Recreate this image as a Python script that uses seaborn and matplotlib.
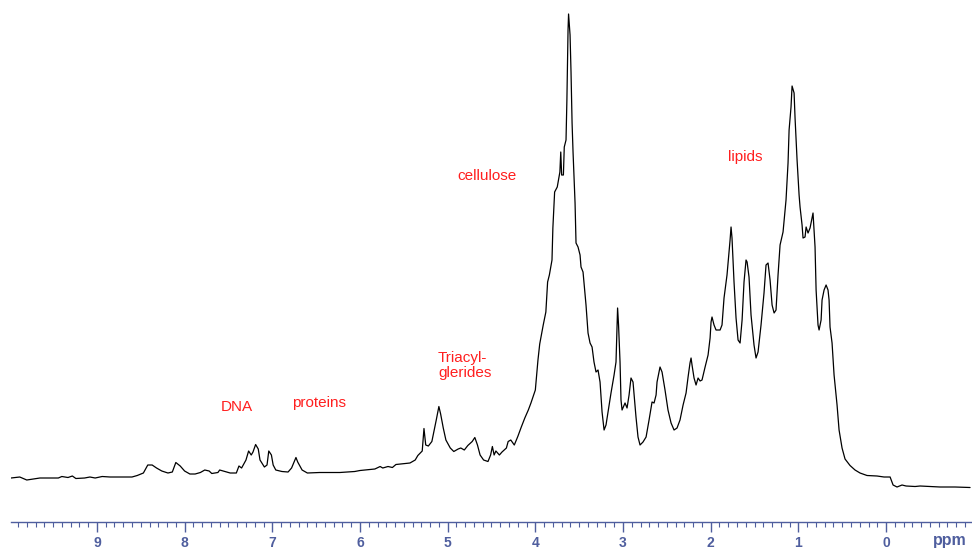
import numpy as np
import pandas as pd
import matplotlib
matplotlib.use("Agg")
import matplotlib.pyplot as plt
import seaborn as sns
from matplotlib.ticker import MultipleLocator

# 1H NMR spectrum: chemical shift (ppm) and intensity (arbitrary units)
shift_ppm = [
    9.98, 9.88, 9.80, 9.65, 9.44, 9.40, 9.33, 9.28, 9.24, 9.14, 9.08, 9.02,
    8.94, 8.85, 8.74, 8.60, 8.54, 8.47, 8.42, 8.37, 8.32, 8.26, 8.19, 8.14,
    8.10, 8.05, 8.00, 7.94, 7.88, 7.82, 7.77, 7.72, 7.69, 7.62, 7.60, 7.54,
    7.48, 7.41, 7.38, 7.35, 7.30, 7.27, 7.24, 7.22, 7.19, 7.16, 7.14, 7.09,
    7.06, 7.04, 7.01, 6.99, 6.96, 6.89, 6.82, 6.78, 6.73, 6.71, 6.66, 6.60,
    6.46, 6.23, 6.06, 6.00, 5.83, 5.77, 5.74, 5.68, 5.63, 5.59, 5.49, 5.43,
    5.37, 5.34, 5.29, 5.27, 5.25, 5.22, 5.18, 5.13, 5.10, 5.08, 5.05, 5.02,
    4.97, 4.93, 4.88, 4.85, 4.81, 4.77, 4.72, 4.69, 4.66, 4.63, 4.59, 4.54,
    4.51, 4.49, 4.47, 4.45, 4.41, 4.38, 4.33, 4.31, 4.28, 4.24, 4.20, 4.16,
    4.12, 4.08, 4.05, 4.00, 3.97, 3.95, 3.91, 3.88, 3.86, 3.84, 3.81, 3.80,
    3.78, 3.75, 3.74, 3.72, 3.71, 3.70, 3.68, 3.67, 3.65, 3.64, 3.627, 3.621,
    3.616, 3.604, 3.593, 3.581, 3.570, 3.547, 3.536, 3.513, 3.490, 3.479, 3.456,
    3.445, 3.422, 3.399, 3.376, 3.353, 3.331, 3.308, 3.285, 3.262, 3.239, 3.216,
    3.194, 3.171, 3.137, 3.102, 3.080, 3.062, 3.051, 3.034, 3.023, 3.011, 2.977,
    2.954, 2.931, 2.909, 2.886, 2.852, 2.829, 2.806, 2.772, 2.737, 2.703, 2.669,
    2.646, 2.623, 2.612, 2.578, 2.555, 2.521, 2.487, 2.452, 2.418, 2.384, 2.350,
    2.315, 2.281, 2.258, 2.236, 2.224, 2.213, 2.190, 2.167, 2.144, 2.121, 2.099,
    2.064, 2.030, 2.007, 1.996, 1.985, 1.962, 1.939, 1.893, 1.871, 1.848, 1.814,
    1.779, 1.768, 1.757, 1.734, 1.711, 1.688, 1.665, 1.642, 1.620, 1.597, 1.585,
    1.563, 1.540, 1.506, 1.483, 1.460, 1.426, 1.392, 1.369, 1.346, 1.323, 1.300,
    1.277, 1.255, 1.232, 1.209, 1.175, 1.141, 1.118, 1.106, 1.084, 1.072, 1.049,
    1.038, 1.015, 0.992, 0.981, 0.958, 0.947, 0.924, 0.912, 0.890, 0.867, 0.833,
    0.821, 0.810, 0.798, 0.776, 0.764, 0.741, 0.730, 0.707, 0.684, 0.662, 0.650,
    0.639, 0.616, 0.593, 0.559, 0.536, 0.502, 0.468, 0.411, 0.354, 0.297, 0.217,
    0.103, 0.023, -0.046, -0.080, -0.125, -0.182, -0.228, -0.331, -0.388, -0.502,
    -0.616, -0.787, -0.958,
]
intensity = [
    12, 13, 10, 12, 12, 13.5, 12.5, 14, 11.5, 12, 13, 12,
    13.5, 13, 13, 13, 14.5, 17, 25, 25, 22, 19, 17, 18,
    27.5, 24, 19, 16, 16, 17.5, 20, 19, 16.5, 17.5, 20, 18.5,
    17, 17, 24, 22, 30, 39, 35, 38, 45.5, 41, 30, 23,
    25, 39, 35, 25, 20, 18.5, 18, 22, 32.5, 28, 20, 17,
    17.5, 17.5, 18.5, 19.5, 21, 23.5, 22, 23.5, 22.5, 25.5, 26.5, 27,
    30, 34.5, 39, 61.5, 45, 44, 48.5, 70, 83.5, 76, 62, 50,
    42, 38.5, 41, 42, 40, 44.5, 48.5, 52.5, 45, 35, 30, 28.5,
    35, 43.5, 35, 39, 35, 38, 42, 48.5, 50, 45, 53.5, 63,
    72, 80, 87, 100, 130, 146, 165, 178, 208, 215, 230, 262,
    298, 303, 308, 318, 338, 315, 315, 343, 350, 390, 460, 476,
    470, 455, 418, 367, 338, 287, 247, 243, 235, 223, 218,
    207, 185, 157, 147, 143, 128, 118, 120, 108, 78, 60,
    65, 78, 97, 115, 128, 182, 165, 128, 90, 80, 87,
    82, 95, 112, 108, 73, 53, 45, 48, 53, 70, 88,
    87, 95, 108, 123, 118, 100, 80, 67, 60, 62, 70,
    85, 97, 113, 127, 132, 125, 112, 105, 112, 109, 110,
    123, 135, 152, 168, 173, 165, 160, 160, 165, 192, 215,
    250, 263, 252, 208, 172, 150, 147, 170, 208, 230, 228,
    213, 175, 145, 132, 138, 165, 197, 225, 227, 210, 185,
    177, 180, 215, 245, 258, 290, 327, 360, 383, 404, 397,
    372, 330, 295, 283, 265, 252, 253, 263, 257, 262, 277,
    260, 243, 200, 165, 160, 170, 190, 200, 205, 200, 190,
    163, 147, 115, 85, 60, 42, 31, 24.5, 20, 17, 14.5,
    14, 13, 13, 5, 3, 5, 4, 3.5, 4, 3.5,
    3, 3, 2.5,
]

# Assignment labels: text, shift (ppm), intensity, horizontal alignment
label_text = ["DNA", "proteins", "Triacyl-\nglerides", "cellulose", "lipids"]
label_ppm = [7.41, 6.47, 5.11, 4.55, 1.61]
label_int = [83, 87, 124.5, 314, 333]
label_ha = ["center", "center", "left", "center", "center"]

sns.set_theme(style="white")
plt.rcParams["font.family"] = ["Liberation Sans", "DejaVu Sans"]

axis_blue = "#4f5e9e"
label_red = "#ff1f1f"

fig = plt.figure(figsize=(9.72, 5.5), dpi=100)
ax = fig.add_axes([0.0113, 0.0509, 0.9887, 0.9491])

df = pd.DataFrame({"ppm": shift_ppm, "intensity": intensity})
sns.lineplot(data=df, x="ppm", y="intensity", ax=ax, color="black",
             linewidth=0.9, estimator=None, sort=False)

ax.set_xlim(9.98, -0.98)
ax.set_ylim(-32, 490)

for side in ("top", "left", "right"):
    ax.spines[side].set_visible(False)
ax.spines["bottom"].set_color(axis_blue)
ax.spines["bottom"].set_linewidth(1.0)

ax.xaxis.set_major_locator(MultipleLocator(1))
ax.xaxis.set_minor_locator(MultipleLocator(0.1))
ax.tick_params(axis="x", which="major", direction="out", length=7, width=1.0,
               color=axis_blue, labelcolor=axis_blue, labelsize=10, pad=3,
               bottom=True)
ax.tick_params(axis="x", which="minor", direction="out", length=3.5, width=0.8,
               color=axis_blue, bottom=True)
ax.set_xticks(np.arange(0, 10, 1))
ax.set_xticklabels([str(v) for v in range(0, 10)], fontweight="bold")
ax.set_yticks([])
ax.set_xlabel("")
ax.set_ylabel("")

fig.text(933 / 972, 1 - 541 / 550, "ppm", color=axis_blue, fontsize=11.5,
         fontweight="bold", ha="left", va="center")

for txt, xp, yp, ha in zip(label_text, label_ppm, label_int, label_ha):
    ax.text(xp, yp, txt, color=label_red, fontsize=11, ha=ha, va="center",
            linespacing=1.15)

fig.savefig("out.png", dpi=100, facecolor="white")
